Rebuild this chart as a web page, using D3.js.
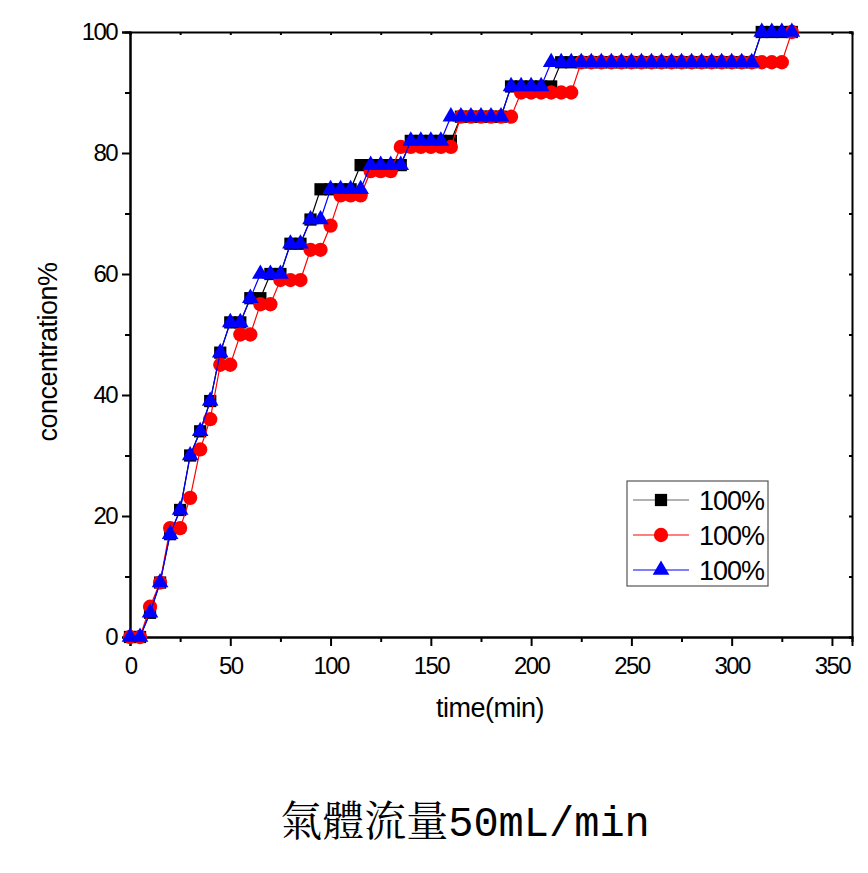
<!DOCTYPE html>
<html>
<head>
<meta charset="utf-8">
<script src="https://cdn.jsdelivr.net/npm/d3@7"></script>
<style>
  body { margin: 0; background: #fff; }
  svg { display: block; }
</style>
</head>
<body>
<div id="chart"></div>
<script>
// time points, every 5 minutes
const times = d3.range(0, 331, 5);

const seriesBlack = [
  0, 0, 4, 9, 17, 21, 30, 34, 39, 47, 52, 52, 56, 56, 60, 60, 65, 65, 69, 74,
  74, 74, 74, 78, 78, 78, 78, 78, 82, 82, 82, 82, 82, 86, 86, 86, 86, 86, 91, 91,
  91, 91, 91, 95, 95, 95, 95, 95, 95, 95, 95, 95, 95, 95, 95, 95, 95, 95, 95, 95,
  95, 95, 95, 100, 100, 100, 100
];
const seriesRed = [
  0, 0, 5, 9, 18, 18, 23, 31, 36, 45, 45, 50, 50, 55, 55, 59, 59, 59, 64, 64,
  68, 73, 73, 73, 77, 77, 77, 81, 81, 81, 81, 81, 81, 86, 86, 86, 86, 86, 86, 90,
  90, 90, 90, 90, 90, 95, 95, 95, 95, 95, 95, 95, 95, 95, 95, 95, 95, 95, 95, 95,
  95, 95, 95, 95, 95, 95, 100
];
const seriesBlue = [
  0, 0, 4, 9, 17, 21, 30, 34, 39, 47, 52, 52, 56, 60, 60, 60, 65, 65, 69, 69,
  74, 74, 74, 74, 78, 78, 78, 78, 82, 82, 82, 82, 86, 86, 86, 86, 86, 86, 91, 91,
  91, 91, 95, 95, 95, 95, 95, 95, 95, 95, 95, 95, 95, 95, 95, 95, 95, 95, 95, 95,
  95, 95, 95, 100, 100, 100, 100
];

const legendLabels = ["100%", "100%", "100%"];
const xTicks = [0, 50, 100, 150, 200, 250, 300, 350];
const yTicks = [0, 20, 40, 60, 80, 100];

const width = 868;
const height = 873;
const margin = { top: 32, right: 16, bottom: 236, left: 130 };

const x = d3.scaleLinear().domain([0, 360]).range([margin.left, width - margin.right]);
const y = d3.scaleLinear().domain([0, 100]).range([height - margin.bottom, margin.top]);

const svg = d3.select("#chart").append("svg")
  .attr("width", width)
  .attr("height", height)
  .style("font-family", "Arial, 'Liberation Sans', sans-serif");

// axes
svg.append("g")
  .attr("transform", `translate(0, ${y(0)})`)
  .call(d3.axisBottom(x).tickValues(xTicks).tickSize(9).tickPadding(11).tickFormat(d3.format("d")));
svg.append("g")
  .attr("transform", `translate(0, ${y(0)})`)
  .call(d3.axisBottom(x).tickValues(d3.range(25, 360, 50)).tickSize(5).tickFormat(""));
svg.append("g")
  .attr("transform", `translate(${x(0)}, 0)`)
  .call(d3.axisLeft(y).tickValues(yTicks).tickSize(8).tickPadding(5));
svg.append("g")
  .attr("transform", `translate(${x(0)}, 0)`)
  .call(d3.axisLeft(y).tickValues(d3.range(10, 100, 20)).tickSize(5).tickFormat(""));
// top & right frame
svg.append("g")
  .attr("transform", `translate(0, ${y(100)})`)
  .call(d3.axisTop(x).tickValues(d3.range(0, 360, 25)).tickSize(-3).tickFormat(""));
svg.append("g")
  .attr("transform", `translate(${x(360)}, 0)`)
  .call(d3.axisRight(y).tickValues(d3.range(0, 101, 10)).tickSize(-3).tickFormat(""));

svg.selectAll(".domain").attr("stroke", "#000").attr("stroke-width", 2);
svg.selectAll(".tick line").attr("stroke", "#000").attr("stroke-width", 2);
svg.selectAll(".tick text")
  .attr("fill", "#000")
  .style("font-size", "24px")
  .style("letter-spacing", "-1.6px");

svg.append("text")
  .attr("x", 490)
  .attr("y", 717)
  .attr("text-anchor", "middle")
  .style("font-size", "27px")
  .style("letter-spacing", "-0.5px")
  .text("time(min)");

svg.append("text")
  .attr("transform", `translate(57, 352) rotate(-90)`)
  .attr("text-anchor", "middle")
  .style("font-size", "27px")
  .style("letter-spacing", "-0.5px")
  .text("concentration%");

// series
const series = [
  { name: "black", values: seriesBlack, color: "#000", shape: d3.symbolSquare, size: 150 },
  { name: "red", values: seriesRed, color: "#ff0000", shape: d3.symbolCircle, size: 160 },
  { name: "blue", values: seriesBlue, color: "#0000ff", shape: d3.symbolTriangle, size: 120 }
];

const line = d3.line().x((d) => x(d[0])).y((d) => y(d[1]));

series.forEach((s) => {
  const pts = times.map((t, i) => [t, s.values[i]]);
  const g = svg.append("g");
  g.append("path")
    .attr("d", line(pts))
    .attr("fill", "none")
    .attr("stroke", s.color)
    .attr("stroke-width", 1.2);
  g.selectAll("path.mk")
    .data(pts)
    .join("path")
    .attr("class", "mk")
    .attr("transform", (d) => `translate(${x(d[0])}, ${y(d[1])})`)
    .attr("d", d3.symbol().type(s.shape).size(s.size))
    .attr("fill", s.color);
});

// legend
const legend = svg.append("g").attr("transform", "translate(627, 481)");
legend.append("rect")
  .attr("width", 141)
  .attr("height", 105)
  .attr("fill", "#fff")
  .attr("stroke", "#555")
  .attr("stroke-width", 1.2);
series.forEach((s, i) => {
  const ly = 19 + i * 35;
  legend.append("line")
    .attr("x1", 6).attr("x2", 62)
    .attr("y1", ly).attr("y2", ly)
    .attr("stroke", s.color === "#000" ? "#666" : s.color)
    .attr("stroke-width", 1.2);
  legend.append("path")
    .attr("transform", `translate(34, ${ly})`)
    .attr("d", d3.symbol().type(s.shape).size(s.size))
    .attr("fill", s.color);
  legend.append("text")
    .attr("x", 72)
    .attr("y", ly)
    .attr("dy", "0.36em")
    .style("font-size", "27px")
    .style("letter-spacing", "-1px")
    .text(legendLabels[i]);
});

// caption
svg.append("text")
  .attr("x", 465)
  .attr("y", 836)
  .attr("text-anchor", "middle")
  .style("font-family", "'Liberation Mono', 'Noto Serif CJK TC', 'Noto Sans CJK TC', monospace")
  .style("font-size", "42px")
  .text("氣體流量50mL/min");
</script>
</body>
</html>
